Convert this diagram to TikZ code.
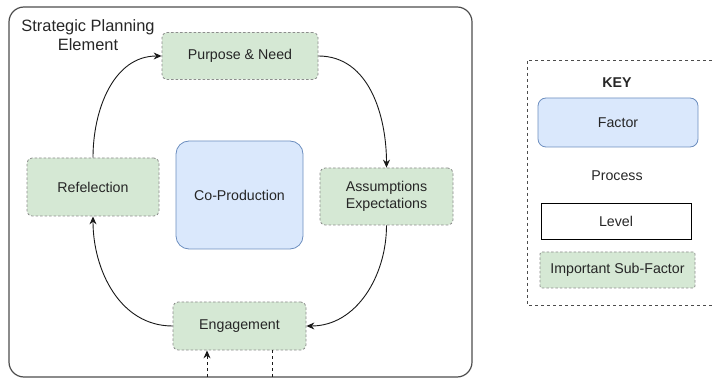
\documentclass[tikz,border=0pt]{standalone}
\usepackage{fontspec}
\setmainfont{Liberation Sans}
\usetikzlibrary{arrows.meta}
\definecolor{subfill}{HTML}{D5E8D4}
\definecolor{subdraw}{HTML}{8C8C8C}
\definecolor{facfill}{HTML}{DAE8FC}
\definecolor{facdraw}{HTML}{6C8EBF}
\definecolor{outerdraw}{HTML}{4D4D4D}
\begin{document}
\begin{tikzpicture}[x=1pt,y=-1pt,
  base/.style={inner sep=0pt,align=center,font=\fontsize{14.2}{17}\selectfont,text=black!85},
  subbox/.style={base,draw=subdraw,fill=subfill,dash pattern=on 2.5pt off 2pt,rounded corners=5pt,line width=0.8pt},
  facbox/.style={base,draw=facdraw,fill=facfill,rounded corners=13pt,line width=0.8pt},
  arr/.style={-{Stealth[length=8pt,width=7pt]},line width=0.9pt,black!90},
  keydash/.style={draw=black!70,dash pattern=on 3pt off 3pt,line width=0.9pt}]
\useasboundingbox (0,0) rectangle (712,379);
% outer level box
\node[draw=outerdraw,line width=1.2pt,rounded corners=15pt,minimum width=463pt,minimum height=370pt,inner sep=0pt] (outer) at (240.5,192) {};
\node[base,font=\fontsize{16.4}{19}\selectfont] (title) at (88,35) {Strategic Planning\\Element};
% sub-factors
\node[subbox,minimum width=156pt,minimum height=47pt] (purp) at (240,56) {Purpose \& Need};
\node[subbox,minimum width=133pt,minimum height=57pt] (assm) at (386.5,196.5) {Assumptions\\Expectations};
\node[subbox,minimum width=133pt,minimum height=48pt] (eng) at (239.5,326) {Engagement};
\node[subbox,minimum width=132pt,minimum height=58pt] (refl) at (93,187) {Refelection};
\node[facbox,minimum width=127pt,minimum height=108pt] (cop) at (239.5,195) {Co-Production};
% process arrows
\draw[arr] (refl.north) to[out=90,in=180] (purp.west);
\draw[arr] (purp.east) to[out=0,in=90] (assm.north);
\draw[arr] (assm.south) to[out=-90,in=0] (eng.east);
\draw[arr] (eng.west) to[out=180,in=-90] (refl.south);
% dashed links to outside
\coordinate (d1) at (207,377);
\coordinate (d2) at (272,377);
\draw[arr,dash pattern=on 3pt off 3pt] (d1) -- (d1 |- eng.south);
\draw[line width=0.9pt,black!90,dash pattern=on 3pt off 3pt] (d2 |- eng.south) -- (d2);
% key
\coordinate (k1) at (712,60);
\coordinate (k2) at (527,60);
\coordinate (k3) at (527,305);
\coordinate (k4) at (712,305);
\draw[keydash] (k1) -- (k2) -- (k3) -- (k4);
\node[base,font=\bfseries\fontsize{14.2}{17}\selectfont] (key) at (617,83) {KEY};
\node[base,draw=facdraw,fill=facfill,rounded corners=8pt,line width=0.8pt,minimum width=160pt,minimum height=49pt] (kfac) at (618,122.5) {Factor};
\node[base] (kproc) at (617,176) {Process};
\node[base,draw=black,line width=0.9pt,minimum width=150pt,minimum height=36pt] (klev) at (616,221) {Level};
\node[subbox,rounded corners=2pt,minimum width=155pt,minimum height=36pt] (ksub) at (617.5,270) {Important Sub-Factor};
\end{tikzpicture}
\end{document}
